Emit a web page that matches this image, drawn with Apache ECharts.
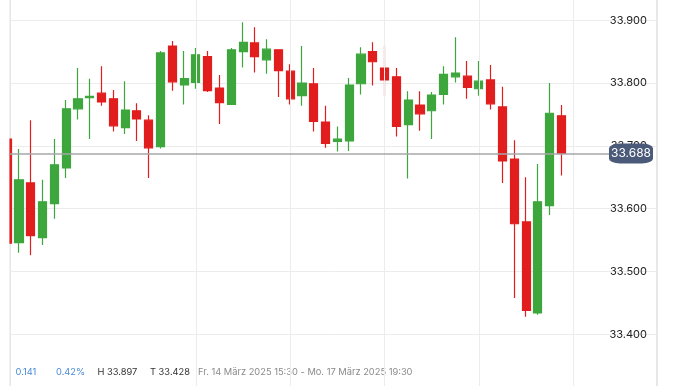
<!DOCTYPE html>
<html>
<head>
<meta charset="utf-8">
<script src="https://cdn.jsdelivr.net/npm/echarts@6/dist/echarts.min.js"></script>
<style>
html,body{margin:0;padding:0;background:#fff;}
#c{width:678px;height:386px;}
</style>
</head>
<body>
<div id="c"></div>
<script>
// Candle values (index 0..47)
const opens  = [33.711,33.546,33.641,33.554,33.608,33.665,33.759,33.777,33.784,33.775,33.729,33.756,33.741,33.699,33.859,33.797,33.801,33.842,33.792,33.766,33.850,33.864,33.837,33.853,33.819,33.780,33.799,33.738,33.707,33.708,33.799,33.850,33.824,33.810,33.734,33.765,33.756,33.782,33.810,33.811,33.791,33.805,33.762,33.679,33.579,33.434,33.605,33.748];
const closes = [33.545,33.646,33.557,33.611,33.670,33.759,33.775,33.779,33.770,33.732,33.757,33.743,33.697,33.848,33.802,33.807,33.845,33.788,33.769,33.853,33.865,33.842,33.854,33.820,33.775,33.800,33.739,33.704,33.711,33.797,33.846,33.834,33.805,33.731,33.773,33.751,33.781,33.814,33.816,33.793,33.803,33.767,33.676,33.576,33.438,33.611,33.752,33.688];
const lows   = [33.540,33.530,33.526,33.542,33.584,33.649,33.742,33.711,33.764,33.723,33.719,33.708,33.649,33.696,33.788,33.766,33.791,33.786,33.735,33.765,33.825,33.817,33.815,33.778,33.766,33.764,33.723,33.697,33.691,33.692,33.782,33.796,33.780,33.715,33.648,33.724,33.711,33.766,33.801,33.775,33.780,33.758,33.641,33.458,33.428,33.431,33.590,33.653];
const highs  = [33.715,33.695,33.741,33.646,33.711,33.773,33.824,33.807,33.827,33.789,33.803,33.768,33.749,33.851,33.867,33.851,33.856,33.851,33.813,33.856,33.897,33.889,33.870,33.854,33.830,33.859,33.824,33.764,33.731,33.808,33.857,33.865,33.859,33.824,33.787,33.787,33.786,33.827,33.873,33.835,33.835,33.829,33.794,33.709,33.650,33.671,33.800,33.765];
const timeGridIdx = [16, 24, 32, 40, 48];
const yTicks = [33.3, 33.4, 33.5, 33.6, 33.7, 33.8, 33.9, 34.0];
const lastPrice = 33.688;
const infoTexts = ['0.141', '0.42%', 'H 33.897', 'T 33.428', 'Fr. 14 März 2025 15:30 - Mo. 17 März 2025 19:30'];

const xMin = 0.237, xMax = 55.098;
const data = opens.map((o, i) => [i, o, closes[i], lows[i], highs[i]]);

const chart = echarts.init(document.getElementById('c'), null, {renderer: 'canvas'});
const FONT = 'Inter';
const infoFont = '9.3px Inter';
chart.setOption({
  animation: false,
  backgroundColor: '#fff',
  grid: {left: 10, right: 21, top: -42.5, bottom: -11.1, containLabel: false, outerBoundsMode: 'none',
    show: true, borderColor: '#cfcfcf', borderWidth: 1, backgroundColor: 'transparent'},
  xAxis: {
    type: 'value', min: xMin, max: xMax,
    axisLine: {show: false}, axisTick: {show: false}, axisLabel: {show: false}, splitLine: {show: false}
  },
  yAxis: {
    type: 'value', position: 'right', min: yTicks[0], max: yTicks[yTicks.length - 1], interval: 0.1,
    axisLine: {show: false}, axisTick: {show: false},
    axisLabel: {inside: true, margin: 10, color: '#222', fontSize: 11, fontFamily: FONT,
      formatter: v => v.toFixed(3)},
    splitLine: {lineStyle: {color: '#ececec', width: 1}}
  },
  series: [{
    type: 'candlestick',
    clip: true,
    encode: {x: 0, y: [1, 2, 3, 4]},
    data: data,
    barWidth: 8.6,
    itemStyle: {color: '#3da63d', color0: '#e11d1d', borderColor: '#3da63d', borderColor0: '#e11d1d', borderWidth: 1.2},
    markLine: {
      silent: true, symbol: 'none', animation: false,
      label: {show: false},
      data: timeGridIdx.map(v => ({xAxis: v, lineStyle: {color: '#ececec', width: 1, type: 'solid'}}))
        .concat([[{coord: [xMin, lastPrice], lineStyle: {color: '#a4a7aa', width: 1.5, type: 'solid'}}, {coord: [51.5, lastPrice]}]])
    },
    markPoint: {
      silent: true, animation: false,
      data: [{coord: [52.893, lastPrice], symbol: 'roundRect', symbolSize: [44, 20],
        itemStyle: {color: '#4a5a78'},
        label: {show: true, formatter: lastPrice.toFixed(3), color: '#fff', fontSize: 12, fontFamily: FONT}}]
    },
    z: 3
  }],
  graphic: [
    // white mask left of the plot border (the plot clips the first, partial candle)
    {type: 'rect', left: 0, top: 0, shape: {width: 9.4, height: 386}, style: {fill: '#fff'}, z: 50, silent: true},
    {type: 'text', left: 15.5, top: 368, style: {text: infoTexts[0], fill: '#4a8ad4', font: infoFont}},
    {type: 'text', left: 56, top: 368, style: {text: infoTexts[1], fill: '#4a8ad4', font: infoFont}},
    {type: 'text', left: 97.5, top: 368, style: {text: infoTexts[2], fill: '#333', font: infoFont}},
    {type: 'text', left: 150, top: 368, style: {text: infoTexts[3], fill: '#333', font: infoFont}},
    {type: 'text', left: 198, top: 368, style: {text: infoTexts[4], fill: '#8a8a8a', font: infoFont}}
  ]
});
</script>
</body>
</html>
